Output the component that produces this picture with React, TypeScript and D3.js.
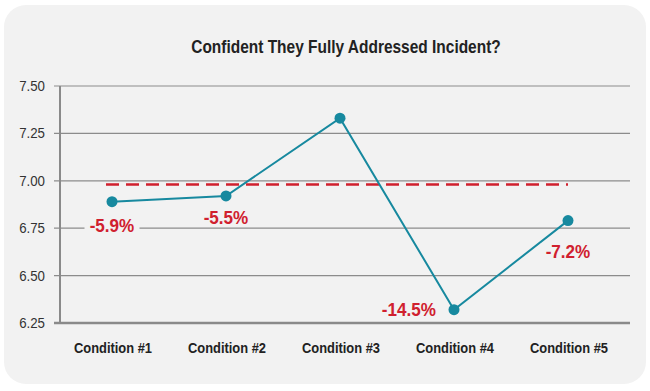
import * as d3 from "d3";
import { useEffect } from "react";

const categories = ["Condition #1", "Condition #2", "Condition #3", "Condition #4", "Condition #5"];
const values = [6.89, 6.92, 7.33, 6.32, 6.79];
const changeLabels = ["-5.9%", "-5.5%", "", "-14.5%", "-7.2%"];
const yTicks = [6.25, 6.5, 6.75, 7.0, 7.25, 7.5];
const baseline = 6.98;

const W = 650;
const H = 391;
const PLOT = { left: 60, right: 630, top: 86, bottom: 323 };
const TEAL = "#17899f";
const RED = "#d0202e";
const PANEL = "#f2f2f2";
const SANS = "'Liberation Sans', Arial, Helvetica, sans-serif";

// text squeezed horizontally to mimic the condensed face of the original
function NarrowText({
  x,
  y,
  sx,
  anchor = "middle",
  children,
  ...rest
}: {
  x: number;
  y: number;
  sx: number;
  anchor?: string;
  children: React.ReactNode;
  [k: string]: any;
}) {
  return (
    <g transform={`translate(${x},${y}) scale(${sx},1)`}>
      <text textAnchor={anchor} fontFamily={SANS} {...rest}>
        {children}
      </text>
    </g>
  );
}

export default function App() {
  useEffect(() => {
    document.body.style.margin = "0";
  }, []);

  const x = d3.scaleBand<string>().domain(categories).range([56, 626]);
  const cx = (c: string) => (x(c) ?? 0) + x.bandwidth() / 2;
  const y = d3.scaleLinear().domain([6.25, 7.5]).range([PLOT.bottom, PLOT.top]);

  const line = d3
    .line<number>()
    .x((_, i) => cx(categories[i]) - 1)
    .y((d) => y(d));

  const labelPos = (i: number) => {
    const px = cx(categories[i]) - 1;
    const py = y(values[i]);
    if (i === 3) return { x: px - 18, y: py + 6, anchor: "end" };
    if (i === 4) return { x: px, y: py + 37, anchor: "middle" };
    if (i === 1) return { x: px, y: py + 28, anchor: "middle" };
    return { x: px, y: py + 30, anchor: "middle" };
  };

  return (
    <svg width={W} height={H} style={{ display: "block", background: "#fff" }}>
      <rect x={4} y={5} width={642} height={379} rx={22} fill={PANEL} />

      <NarrowText x={346} y={53} sx={0.86} fontWeight="bold" fontSize={18} fill="#222">
        Confident They Fully Addressed Incident?
      </NarrowText>

      {yTicks.map((t) => (
        <g key={t}>
          <line
            x1={54}
            x2={PLOT.right}
            y1={y(t)}
            y2={y(t)}
            stroke={t === 6.25 ? "#8a8a8a" : "#8c8c8c"}
            strokeWidth={t === 6.25 ? 2.5 : 1.2}
          />
          <NarrowText x={45} y={y(t) + 5} sx={0.95} anchor="end" fontSize={14} fill="#333">
            {t.toFixed(2)}
          </NarrowText>
        </g>
      ))}
      <line x1={PLOT.left} x2={PLOT.left} y1={PLOT.top} y2={PLOT.bottom + 1} stroke="#8a8a8a" strokeWidth={2} />

      <line
        x1={106}
        x2={568}
        y1={y(baseline)}
        y2={y(baseline)}
        stroke={RED}
        strokeWidth={2.5}
        strokeDasharray="13 7"
      />

      <path d={line(values) ?? ""} fill="none" stroke={TEAL} strokeWidth={2} />
      {values.map((v, i) => (
        <circle key={i} cx={cx(categories[i]) - 1} cy={y(v)} r={5.5} fill={TEAL} />
      ))}

      {changeLabels.map((l, i) => {
        if (!l) return null;
        const p = labelPos(i);
        const w = l.length * 9 + 10;
        const bx = p.anchor === "end" ? p.x - w + 5 : p.x - w / 2;
        return (
          <g key={l}>
            {/* knock-out behind the label so gridlines do not run through it */}
            <rect x={bx} y={p.y - 14} width={w} height={16} fill={PANEL} />
            <NarrowText x={p.x} y={p.y} sx={0.95} anchor={p.anchor} fontWeight="bold" fontSize={18} fill={RED}>
              {l}
            </NarrowText>
          </g>
        );
      })}

      {categories.map((c) => (
        <NarrowText key={c} x={cx(c)} y={353} sx={0.86} fontWeight="bold" fontSize={15} fill="#222">
          {c}
        </NarrowText>
      ))}
    </svg>
  );
}
